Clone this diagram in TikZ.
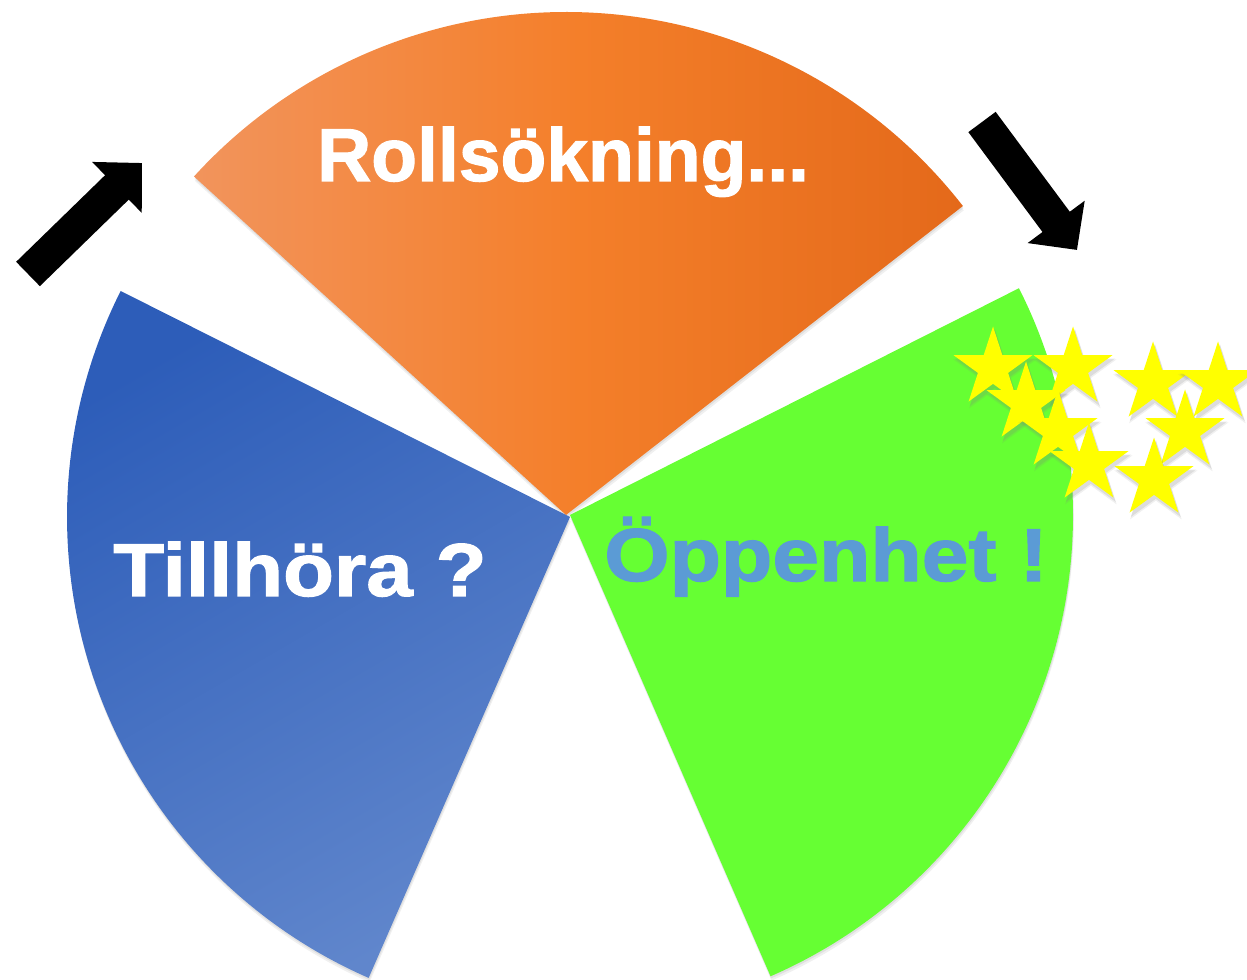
\documentclass[tikz,border=0pt]{standalone}
\usepackage{fontspec}
\setmainfont{Liberation Sans}[BoldFeatures={FakeBold=1.5}]
\usetikzlibrary{arrows.meta,shapes.geometric,shadows}

\definecolor{orangeL}{RGB}{242,148,92}
\definecolor{orangeM}{RGB}{244,127,42}
\definecolor{orangeR}{RGB}{228,105,26}
\definecolor{blueTop}{RGB}{45,93,185}
\definecolor{blueBot}{RGB}{96,134,204}
\definecolor{greenFill}{RGB}{102,255,51}
\definecolor{openBlue}{RGB}{91,155,213}
\definecolor{starYellow}{RGB}{255,255,0}

\begin{document}
\begin{tikzpicture}[
  x=0.02cm, y=0.02cm,
  wedge/.style     = {drop shadow={shadow xshift=0.5pt, shadow yshift=-2.5pt, opacity=0.12},
                      drop shadow={shadow xshift=0.3pt, shadow yshift=-1.2pt, opacity=0.15}},
  title/.style     = {font=\fontsize{42.7}{50}\selectfont\bfseries, anchor=base, inner sep=0pt},
  bigarrow/.style  = {line width=0.68cm, -{Triangle[length=0.7cm, width=1.38cm]}},
  starnode/.style  = {star, star points=5, star point ratio=2.618, minimum size=1.66cm,
                      inner sep=0pt, fill=starYellow,
                      drop shadow={shadow xshift=1pt, shadow yshift=-2.5pt, opacity=0.12, shadow scale=1.06},
                      drop shadow={shadow xshift=1pt, shadow yshift=-2pt, opacity=0.18, shadow scale=1.02}},
]
  \useasboundingbox (0,0) rectangle (1247,980);

  % the three wedges
  \shade[wedge, left color=orangeL, right color=orangeR, middle color=orangeM]
    (566,465) -- ++(37.9:503) arc (37.9:137.7:503) -- cycle;
  \shade[wedge, top color=blueTop, bottom color=blueBot, shading angle=30]
    (570,463) -- ++(153.3:503) arc (153.3:246.4:503) -- cycle;
  \fill[wedge, greenFill]
    (570,465) -- ++(-66.5:503) arc (-66.5:26.8:503) -- cycle;

  \node[title, white] (roll) at (563,799) {Rollsökning...};
  \node[title, white] (tillhora) at (300,384) {\scalebox{1.11}[1]{Tillhöra ?}};
  \node[title, openBlue] (oppenhet) at (826,399) {\scalebox{1.12}[1]{Öppenhet !}};

  % arrows round the wheel
  \coordinate (upTail) at (28,706);
  \coordinate (upTip) at (142,817);
  \coordinate (downTail) at (982,858);
  \coordinate (downTip) at (1077,730);
  \draw[bigarrow] (upTail) -- (upTip);
  \draw[bigarrow] (downTail) -- (downTip);

  % stars
  \foreach \sx/\sy [count=\i] in {993/612, 1073/612, 1026/577, 1058/549, 1089/516,
                                  1153/597, 1218/597, 1185/549, 1154/501}
    \node[starnode] (star\i) at (\sx,\sy) {};
\end{tikzpicture}
\end{document}
